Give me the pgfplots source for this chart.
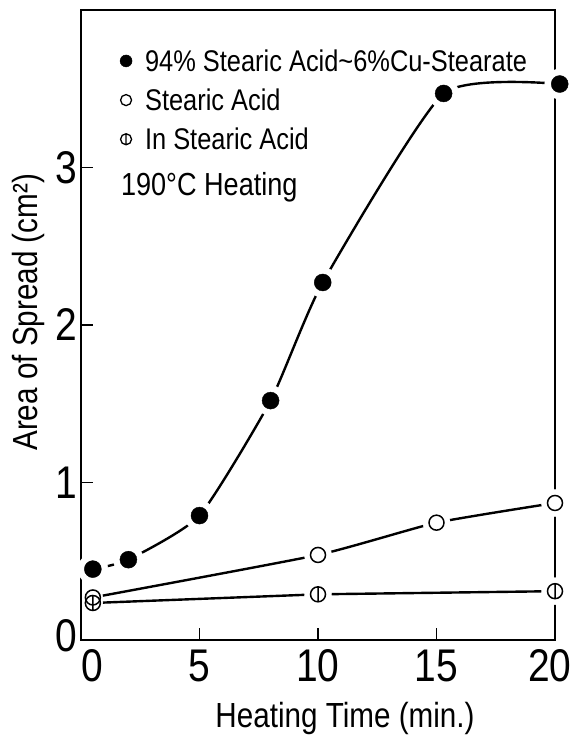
\documentclass[border=0pt]{standalone}
\usepackage{fontspec}
\setmainfont{Liberation Sans}[FakeStretch=0.85]
\usepackage{pgfplots}
\pgfplotsset{compat=1.18}
\pgfdeclareplotmark{phi}{%
 \pgfpathcircle{\pgfpointorigin}{\pgfplotmarksize}%
 \pgfpathmoveto{\pgfqpoint{0pt}{\pgfplotmarksize}}%
 \pgfpathlineto{\pgfqpoint{0pt}{-\pgfplotmarksize}}%
 \pgfusepathqstroke}
\begin{document}
\begin{tikzpicture}
\useasboundingbox (-81bp,-95bp) rectangle (494bp,640bp);
\begin{axis}[
 scale only axis, width=474bp, height=630bp,
 xmin=0, xmax=20, ymin=0, ymax=4,
 xtick={0,5,10,15,20}, ytick={0,1,2,3},
 xticklabels={\hspace*{22bp}0,5,10,15,20\hspace*{10bp}},
 yticklabels={\raisebox{10bp}{0},1,2,3},
 tick pos=left, tick align=inside, major tick length=12bp,
 axis line style={line width=1.8bp},
 tick style={line width=1.6bp, black},
 ticklabel style={font=\fontsize{46}{46}\selectfont},
 xticklabel style={yshift=-6bp},
 /pgf/number format/assume math mode=true,
 xlabel={Heating Time (min.)}, ylabel={Area of Spread (cm²)},
 label style={font=\fontsize{35}{35}\selectfont},
 xlabel style={at={(axis description cs:0.557,-0.124)}, anchor=center},
 ylabel style={at={(axis description cs:-0.11,0.52)}, anchor=center},
 clip=false,
 legend image code/.code={\draw[mark repeat=2,mark phase=2,#1] plot coordinates {(0bp,0bp)(7bp,0bp)(14bp,0bp)};},
 legend style={at={(axis description cs:0.082,0.941)}, anchor=north west, draw=none, fill=none,
   font=\fontsize{30}{36}\selectfont, inner sep=0pt, row sep=12bp, legend cell align=left,
   nodes={inner sep=2bp}, /tikz/every odd column/.append style={column sep=11bp}},
]
% lines
\addplot[line width=2.4bp, smooth, tension=0.33, forget plot] coordinates
 {(0.5,0.45) (2,0.51) (5,0.79) (8,1.52) (10.2,2.27) (15.3,3.47) (20.2,3.53)};
\addplot[line width=2.4bp, smooth, tension=0.3, forget plot] coordinates
 {(0.5,0.27) (10,0.54) (15,0.745) (20,0.87)};
\addplot[line width=2.4bp, forget plot] coordinates
 {(0.5,0.235) (10,0.29) (20,0.31)};
% halos
\addplot[only marks, mark=*, mark size=15bp, white, forget plot] coordinates
 {(0.5,0.45) (2,0.51) (5,0.79) (8,1.52) (10.2,2.27) (15.3,3.47) (20.2,3.53)};
\addplot[only marks, mark=*, mark size=13.5bp, white, forget plot] coordinates
 {(10,0.54) (15,0.745) (20,0.87)};
\addplot[only marks, mark=*, mark size=13.5bp, white, forget plot] coordinates
 {(10,0.29) (20,0.31)};
\addplot[only marks, mark=*, mark size=10bp, white, forget plot] coordinates
 {(0.5,0.27) (0.5,0.235)};
% marks
\addplot[only marks, mark=*, mark size=8.5bp, black, forget plot] coordinates
 {(0.5,0.45) (2,0.51) (5,0.79) (8,1.52) (10.2,2.27) (15.3,3.47) (20.2,3.53)};
\addplot[only marks, mark=o, mark size=7.5bp, line width=1.5bp, black, forget plot] coordinates
 {(0.5,0.27) (10,0.54) (15,0.745) (20,0.87)};
\addplot[only marks, mark=phi, mark size=7.5bp, line width=1.5bp, black, mark options={fill=white}, forget plot] coordinates
 {(0.5,0.235) (10,0.29) (20,0.31)};
% legend
\addlegendimage{only marks, mark=*, mark size=6bp, black}
\addlegendentry{94\% Stearic Acid\textasciitilde 6\%Cu-Stearate}
\addlegendimage{only marks, mark=o, mark size=5.5bp, line width=1.3bp, black}
\addlegendentry{Stearic Acid}
\addlegendimage{only marks, mark=phi, mark size=5.5bp, line width=1.3bp, black}
\addlegendentry{In Stearic Acid}
\node[anchor=west, font=\fontsize{32}{32}\selectfont, inner sep=0pt] at (axis description cs:0.084,0.719) {190°C Heating};
\end{axis}
\end{tikzpicture}
\end{document}
